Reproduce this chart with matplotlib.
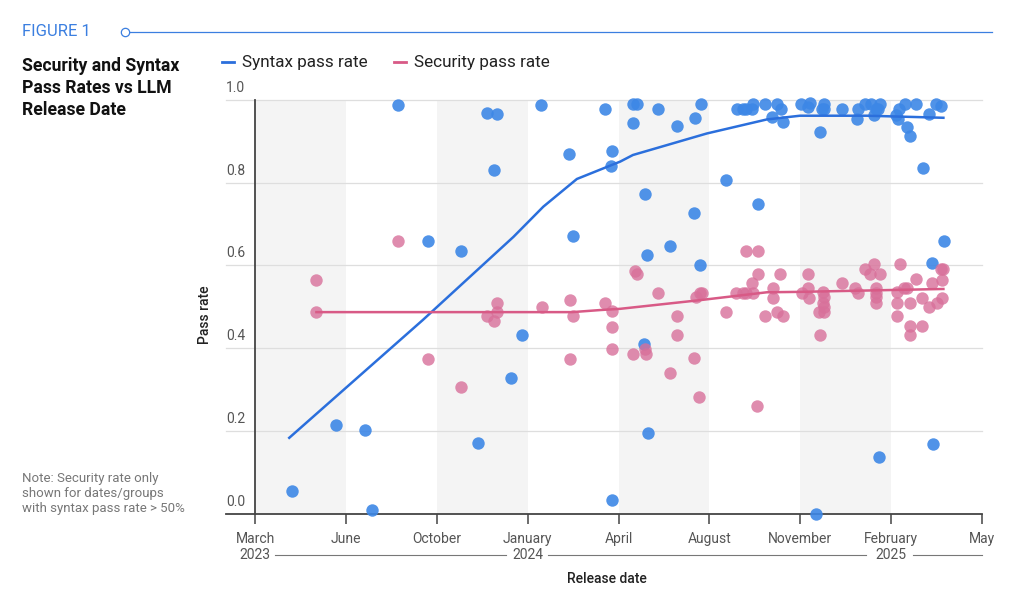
import numpy as np
import matplotlib
matplotlib.use("Agg")
from matplotlib import pyplot as plt
from matplotlib.lines import Line2D
from matplotlib.transforms import blended_transform_factory

plt.rcParams['font.family'] = ['Roboto', 'DejaVu Sans']

# release dates as decimal years
syntax_x = [2023.277, 2023.408, 2023.494, 2023.515, 2023.593, 2023.683, 2023.781, 2023.831,
            2023.857, 2023.887, 2023.880, 2023.930, 2023.963, 2024.019, 2024.104, 2024.113,
            2024.210, 2024.230, 2024.228, 2024.230, 2024.294, 2024.304, 2024.294, 2024.368,
            2024.424, 2024.479, 2024.497, 2024.329, 2024.474, 2024.335, 2024.403, 2024.492,
            2024.326, 2024.339, 2024.571, 2024.666, 2024.602, 2024.622, 2024.629, 2024.647,
            2024.650, 2024.687, 2024.707, 2024.723, 2024.734, 2024.740, 2024.794, 2024.814,
            2024.822, 2024.856, 2024.863, 2024.863, 2024.850, 2024.838, 2024.917, 2024.960,
            2024.965, 2024.985, 2025.001, 2025.010, 2025.018, 2025.024, 2025.030, 2025.026,
            2025.078, 2025.082, 2025.086, 2025.103, 2025.136, 2025.109, 2025.119, 2025.176,
            2025.196, 2025.210, 2025.157, 2025.219, 2025.185, 2025.188]
syntax_y = [0.054, 0.214, 0.202, 0.008, 0.988, 0.658, 0.635, 0.170,
            0.968, 0.967, 0.830, 0.328, 0.432, 0.988, 0.869, 0.671,
            0.979, 0.876, 0.841, 0.032, 0.990, 0.990, 0.944, 0.978,
            0.938, 0.957, 0.990, 0.772, 0.727, 0.625, 0.648, 0.602,
            0.410, 0.194, 0.807, 0.748, 0.979, 0.978, 0.979, 0.979,
            0.990, 0.990, 0.958, 0.990, 0.978, 0.948, 0.990, 0.984,
            0.992, 0.979, 0.990, 0.978, 0.922, 0.0, 0.979, 0.954,
            0.979, 0.990, 0.990, 0.963, 0.979, 0.978, 0.990, 0.136,
            0.963, 0.954, 0.979, 0.990, 0.990, 0.934, 0.913, 0.967,
            0.990, 0.986, 0.835, 0.658, 0.607, 0.169]

security_x = [2023.350, 2023.350, 2023.592, 2023.683, 2023.781, 2023.857, 2023.887, 2023.887,
              2023.879, 2024.021, 2024.105, 2024.113, 2024.105, 2024.209, 2024.230, 2024.230,
              2024.230, 2024.294, 2024.332, 2024.329, 2024.299, 2024.304, 2024.368, 2024.402,
              2024.425, 2024.425, 2024.476, 2024.490, 2024.480, 2024.493, 2024.498, 2024.571,
              2024.599, 2024.622, 2024.630, 2024.650, 2024.647, 2024.629, 2024.666, 2024.666,
              2024.664, 2024.687, 2024.709, 2024.710, 2024.723, 2024.740, 2024.732, 2024.796,
              2024.814, 2024.819, 2024.814, 2024.858, 2024.863, 2024.858, 2024.848, 2024.863,
              2024.863, 2024.850, 2024.916, 2024.956, 2024.965, 2024.985, 2024.998, 2025.010,
              2025.030, 2025.016, 2025.018, 2025.018, 2025.018, 2025.079, 2025.080, 2025.080,
              2025.089, 2025.102, 2025.109, 2025.117, 2025.117, 2025.117, 2025.137, 2025.155,
              2025.155, 2025.175, 2025.185, 2025.200, 2025.213, 2025.213, 2025.210, 2025.218]
security_y = [0.564, 0.487, 0.659, 0.374, 0.306, 0.478, 0.508, 0.487,
              0.466, 0.500, 0.516, 0.478, 0.374, 0.510, 0.490, 0.452,
              0.397, 0.386, 0.386, 0.397, 0.586, 0.579, 0.534, 0.339,
              0.478, 0.432, 0.375, 0.282, 0.523, 0.534, 0.534, 0.488,
              0.534, 0.534, 0.534, 0.534, 0.557, 0.636, 0.636, 0.579,
              0.259, 0.478, 0.521, 0.545, 0.488, 0.478, 0.579, 0.534,
              0.546, 0.520, 0.579, 0.536, 0.523, 0.508, 0.488, 0.499,
              0.488, 0.432, 0.557, 0.546, 0.534, 0.591, 0.579, 0.603,
              0.579, 0.546, 0.534, 0.523, 0.510, 0.536, 0.510, 0.478,
              0.603, 0.545, 0.545, 0.510, 0.453, 0.432, 0.568, 0.521,
              0.453, 0.500, 0.557, 0.510, 0.521, 0.565, 0.591, 0.591]

# smoothed trend lines
syntax_trend_x = [2023.269, 2023.667, 2023.937, 2024.026, 2024.126, 2024.255, 2024.293,
                  2024.513, 2024.692, 2024.791, 2024.990, 2025.218]
syntax_trend_y = [0.183, 0.468, 0.669, 0.742, 0.809, 0.851, 0.867,
                  0.919, 0.953, 0.962, 0.962, 0.957]
security_trend_x = [2023.350, 2024.112, 2024.195, 2024.255, 2024.493, 2024.692, 2024.791, 2025.218]
security_trend_y = [0.487, 0.487, 0.492, 0.495, 0.516, 0.535, 0.536, 0.543]

x_start, x_end = 2023.167, 2025.333
month_labels = ["March", "June", "October", "January", "April", "August", "November", "February", "May"]
year_labels = {0: "2023", 3: "2024", 7: "2025"}
y_ticks = [0.0, 0.2, 0.4, 0.6, 0.8, 1.0]

blue = "#3d87e6"
blue_line = "#2b6fdc"
pink = "#d8709a"
pink_line = "#d85a86"
tick_col = "#555555"

fig = plt.figure(figsize=(10.24, 6.04), dpi=100)
ax = fig.add_axes([255/1024, 90.5/604, 727/1024, 413.5/604])
ax.set_xlim(x_start, x_end)
ax.set_ylim(0, 1)

xt = np.linspace(x_start, x_end, 9)
for i in range(0, 8, 2):
    ax.axvspan(xt[i], xt[i+1], color="#f4f4f4", zorder=0, lw=0)

# gridlines extending left under labels
trans_y = blended_transform_factory(ax.transAxes, ax.transData)
for v in y_ticks:
    if v > 0:
        ax.plot([-0.04, 1], [v, v], transform=trans_y, color="#dedede", lw=0.9,
                clip_on=False, zorder=1)
    ax.text(-0.04, v + 0.012, "{:.1f}".format(v), transform=trans_y, ha="left",
            va="bottom", fontsize=10, color=tick_col)
ax.plot([-0.04, 1], [0, 0], transform=trans_y, color="#444444", lw=1.3,
        clip_on=False, zorder=2)

ax.scatter(syntax_x, syntax_y, s=80, color=blue, alpha=0.9, lw=0, zorder=3, clip_on=False)
ax.scatter(security_x, security_y, s=80, color=pink, alpha=0.8, lw=0, zorder=3, clip_on=False)
ax.plot(syntax_trend_x, syntax_trend_y, color=blue_line, lw=1.8, zorder=4)
ax.plot(security_trend_x, security_trend_y, color=pink_line, lw=1.8, zorder=4)

for s in ["top", "right", "bottom"]:
    ax.spines[s].set_visible(False)
ax.spines["left"].set_color("#444444")
ax.spines["left"].set_linewidth(1.3)
ax.set_yticks([])
ax.set_xticks(xt)
ax.set_xticklabels(month_labels, fontsize=10, color=tick_col)
ax.tick_params(axis="x", length=7, width=1.1, color="#444444", pad=6)

# year labels under ticks, joined by thin lines
trans_x = blended_transform_factory(ax.transData, ax.transAxes)
yr_y = -0.1
for i, lab in year_labels.items():
    ax.text(xt[i], yr_y, lab, transform=trans_x, ha="center", va="center",
            fontsize=10, color=tick_col)
px = (x_end - x_start) / 727
ax.plot([xt[0] + 20*px, xt[3] - 22*px], [yr_y, yr_y], transform=trans_x, color="#777777",
        lw=0.8, clip_on=False)
ax.plot([xt[3] + 20*px, xt[7] - 25*px], [yr_y, yr_y], transform=trans_x, color="#777777",
        lw=0.8, clip_on=False)
ax.plot([xt[7] + 22*px, xt[8]], [yr_y, yr_y], transform=trans_x, color="#777777",
        lw=0.8, clip_on=False)

fig.text(607/1024, 1 - 579/604, "Release date", ha="center", va="center", fontsize=10,
         fontweight="medium", color="#222222")
fig.text(205/1024, 1 - 315/604, "Pass rate", ha="center", va="center", rotation=90,
         fontsize=10, fontweight="medium", color="#222222")

# header
fig.text(22/1024, 1 - 32/604, "FIGURE 1", ha="left", va="center", fontsize=12,
         color="#3b7fe0")
fig.add_artist(Line2D([129/1024, 992/1024], [1 - 32/604, 1 - 32/604], color="#3b7fe0", lw=0.9))
fig.add_artist(Line2D([125/1024], [1 - 32/604], marker="o", markersize=6, markerfacecolor="white",
                      markeredgecolor="#3b7fe0", markeredgewidth=0.9))
fig.text(22/1024, 1 - 57/604, "Security and Syntax\nPass Rates vs LLM\nRelease Date",
         ha="left", va="top", fontsize=12.7, fontweight="bold", linespacing=1.28,
         color="#111111")
fig.text(22/1024, 1 - 472/604, "Note: Security rate only\nshown for dates/groups\nwith syntax pass rate > 50%",
         ha="left", va="top", fontsize=9.5, color="#777777", linespacing=1.2)

handles = [Line2D([0], [0], color=blue_line, lw=2), Line2D([0], [0], color=pink_line, lw=2)]
fig.legend(handles, ["Syntax pass rate", "Security pass rate"], loc="center left",
           bbox_to_anchor=(222/1024, 1 - 63/604), ncol=2, frameon=False, fontsize=12.3,
           handlelength=0.7, handletextpad=0.5, columnspacing=1.5, borderaxespad=0,
           borderpad=0, labelcolor="#222222")

fig.savefig("out.png", dpi=100)
